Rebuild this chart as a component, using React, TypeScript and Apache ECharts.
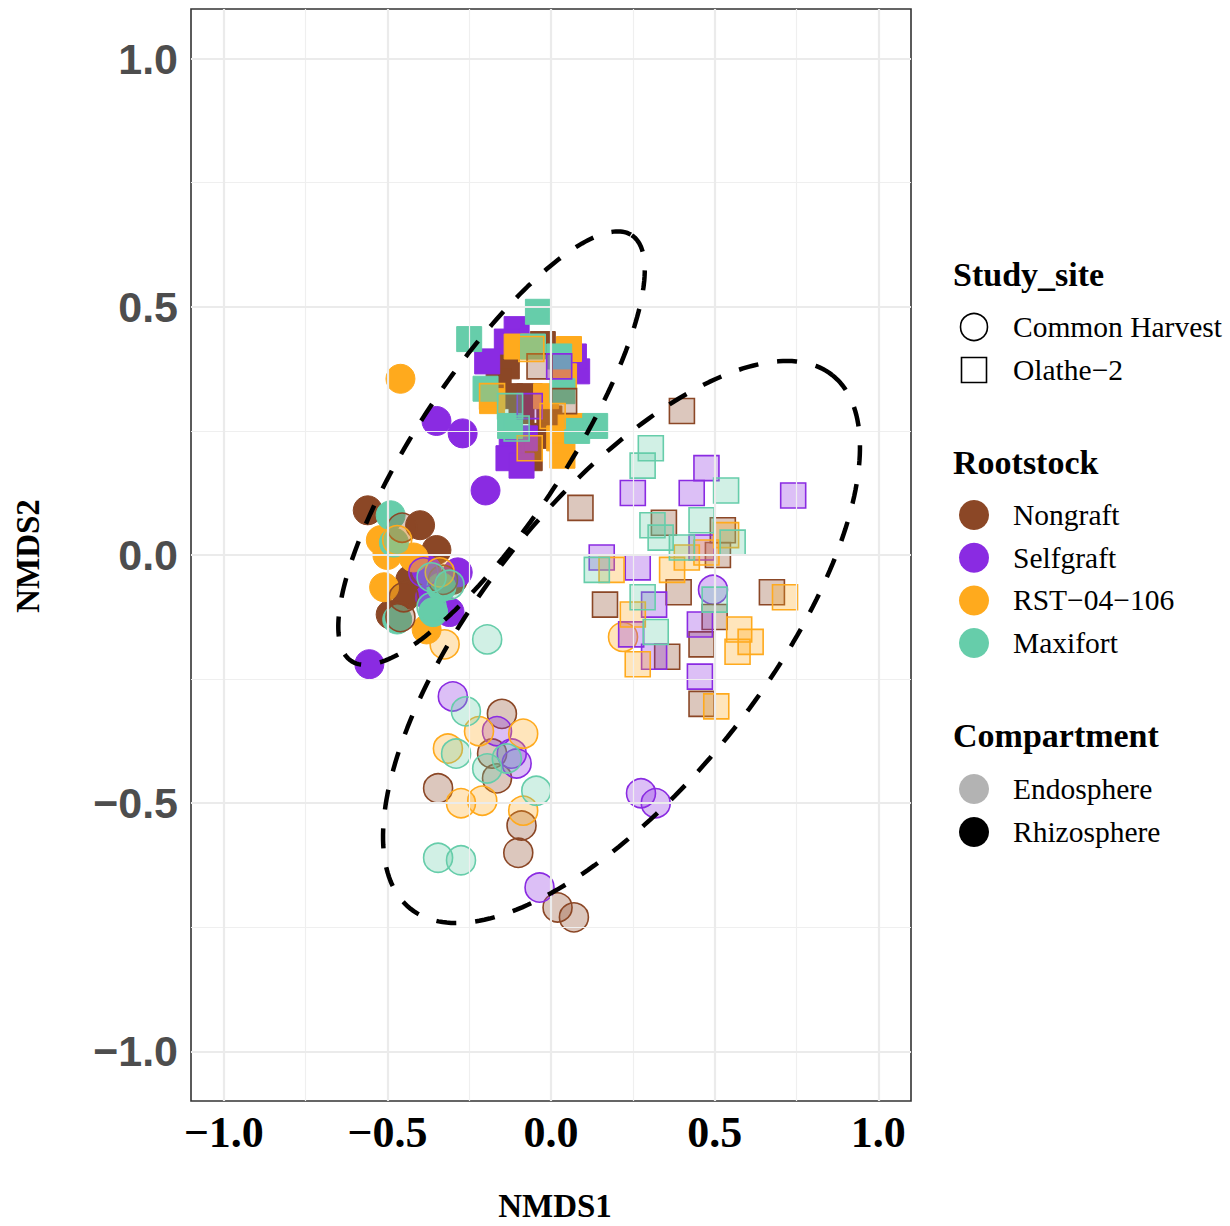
import React, { useEffect, useRef } from 'react';
import * as echarts from 'echarts';

const ROOTSTOCK_LABELS = ['Nongraft', 'Selfgraft', 'RST−04−106', 'Maxifort'];
const ROOTSTOCK_COLORS = ['#8B4726', '#8A2BE2', '#FFAA1D', '#66CDAA'];
const SITE_LABELS = ['Common Harvest', 'Olathe−2'];
const COMPARTMENT_LABELS = ['Endosphere', 'Rhizosphere'];
const COMPARTMENT_COLORS = ['#B3B3B3', '#000000'];
const MAJOR_TICKS = [-1, -0.5, 0, 0.5, 1];
const MINOR_TICKS = [-0.75, -0.25, 0.25, 0.75];

// Common Harvest (circles), Rhizosphere
const chRhizoNongraft = [[-0.56, 0.09], [-0.40, 0.06], [-0.35, 0.01], [-0.43, -0.05], [-0.30, -0.05], [-0.44, -0.08], [-0.49, -0.12]];
const chRhizoSelfgraft = [[-0.35, 0.27], [-0.27, 0.245], [-0.20, 0.13], [-0.285, -0.035], [-0.38, -0.03], [-0.37, -0.085], [-0.31, -0.115], [-0.555, -0.22]];
const chRhizoRST = [[-0.46, 0.355], [-0.52, 0.03], [-0.50, 0.0], [-0.42, -0.005], [-0.51, -0.065], [-0.38, -0.15]];
const chRhizoMaxifort = [[-0.49, 0.08], [-0.48, 0.025], [-0.335, -0.065], [-0.36, -0.115], [-0.47, -0.13]];

// Common Harvest (circles), Endosphere
const chEndoNongraft = [[-0.455, 0.055], [-0.33, -0.05], [-0.45, -0.085], [-0.46, -0.125], [-0.15, -0.32], [-0.18, -0.40], [-0.165, -0.45], [-0.345, -0.47], [-0.09, -0.545], [-0.10, -0.60], [0.02, -0.71], [0.07, -0.73]];
const chEndoSelfgraft = [[-0.39, -0.035], [-0.30, -0.285], [-0.165, -0.355], [-0.12, -0.40], [-0.105, -0.42], [-0.035, -0.67], [0.275, -0.48], [0.32, -0.50], [0.495, -0.07]];
const chEndoRST = [[-0.47, 0.03], [-0.34, -0.035], [-0.325, -0.18], [-0.22, -0.355], [-0.085, -0.36], [-0.315, -0.39], [-0.275, -0.50], [-0.21, -0.495], [-0.085, -0.515], [0.22, -0.165]];
const chEndoMaxifort = [[-0.365, -0.045], [-0.31, -0.06], [-0.365, -0.105], [-0.195, -0.17], [-0.26, -0.315], [-0.29, -0.40], [-0.195, -0.43], [-0.135, -0.41], [-0.045, -0.475], [-0.345, -0.61], [-0.275, -0.615]];

// Olathe-2 (squares), Rhizosphere
const olRhizoNongraft = [[-0.025, 0.425], [-0.135, 0.38], [-0.16, 0.35], [-0.125, 0.32], [-0.065, 0.32], [-0.005, 0.275], [-0.025, 0.24], [-0.065, 0.195], [-0.09, 0.29]];
const olRhizoSelfgraft = [[-0.105, 0.455], [-0.135, 0.43], [-0.195, 0.39], [0.08, 0.37], [0.07, 0.40], [-0.08, 0.235], [-0.12, 0.21], [-0.13, 0.195], [-0.09, 0.18]];
const olRhizoRST = [[0.055, 0.415], [-0.105, 0.42], [-0.18, 0.31], [-0.015, 0.32], [0.06, 0.26], [0.025, 0.235], [0.035, 0.20], [0.04, 0.36]];
const olRhizoMaxifort = [[-0.04, 0.49], [-0.25, 0.435], [-0.055, 0.42], [0.025, 0.40], [-0.20, 0.335], [0.035, 0.33], [-0.125, 0.26], [0.08, 0.25], [0.135, 0.26]];

// Olathe-2 (squares), Endosphere
const olEndoNongraft = [[-0.035, 0.38], [0.04, 0.31], [0.40, 0.29], [0.09, 0.095], [0.345, 0.065], [0.525, 0.05], [0.51, 0.0], [0.39, -0.075], [0.165, -0.10], [0.50, -0.125], [0.46, -0.18], [0.355, -0.205], [0.675, -0.075], [0.46, -0.30]];
const olEndoSelfgraft = [[0.025, 0.38], [-0.065, 0.30], [0.475, 0.175], [0.25, 0.125], [0.43, 0.125], [0.74, 0.12], [0.46, 0.015], [0.155, -0.005], [0.265, -0.025], [0.315, -0.10], [0.455, -0.14], [0.245, -0.16], [0.315, -0.205], [0.455, -0.245]];
const olEndoRST = [[-0.06, 0.415], [-0.18, 0.32], [0.005, 0.28], [-0.065, 0.215], [0.535, 0.04], [0.475, 0.005], [0.415, -0.005], [0.185, -0.03], [0.37, -0.03], [0.25, -0.12], [0.575, -0.15], [0.61, -0.175], [0.57, -0.195], [0.265, -0.22], [0.715, -0.085], [0.505, -0.305]];
const olEndoMaxifort = [[-0.125, 0.30], [-0.105, 0.255], [0.305, 0.215], [0.28, 0.18], [0.535, 0.13], [0.31, 0.06], [0.46, 0.07], [0.335, 0.035], [0.40, 0.015], [0.555, 0.025], [0.14, -0.03], [0.28, -0.085], [0.50, -0.09], [0.32, -0.155]];

// Ellipse parameters (center + conjugate semi-axis vectors, data units)
const ELLIPSE_RHIZO = [-0.1817, 0.2153, 0.4285, 0.4289, 0.1888, -0.082];
const ELLIPSE_ENDO = [0.2154, -0.1753, 0.6441, 0.5377, 0.3407, -0.1773];

const RHIZO_GROUPS = [
  [chRhizoNongraft, chRhizoSelfgraft, chRhizoRST, chRhizoMaxifort],
  [olRhizoNongraft, olRhizoSelfgraft, olRhizoRST, olRhizoMaxifort],
];
const ENDO_GROUPS = [
  [chEndoNongraft, chEndoSelfgraft, chEndoRST, chEndoMaxifort],
  [olEndoNongraft, olEndoSelfgraft, olEndoRST, olEndoMaxifort],
];

function rgba(hex: string, a: number) {
  const n = parseInt(hex.slice(1), 16);
  return `rgba(${(n >> 16) & 255},${(n >> 8) & 255},${n & 255},${a})`;
}

function ellipsePoints(p: number[]) {
  const [cx, cy, ux, uy, vx, vy] = p;
  const pts: number[][] = [];
  const N = 240;
  for (let i = 0; i <= N; i++) {
    const t = (i / N) * Math.PI * 2;
    pts.push([cx + ux * Math.cos(t) + vx * Math.sin(t), cy + uy * Math.cos(t) + vy * Math.sin(t)]);
  }
  return pts;
}

const fmt = (v: number) => (v < 0 ? '−' : '') + Math.abs(v).toFixed(1);

export default function App() {
  const ref = useRef<HTMLDivElement>(null);
  useEffect(() => {
    if (!ref.current) return;
    const chart = echarts.init(ref.current, null, { renderer: 'svg' });
    const series: any[] = [];

    const gridData: any[] = [];
    MINOR_TICKS.forEach((v) => {
      gridData.push({ xAxis: v, lineStyle: { color: '#EFEFEF', width: 1.2, type: 'solid' } });
      gridData.push({ yAxis: v, lineStyle: { color: '#EFEFEF', width: 1.2, type: 'solid' } });
    });
    MAJOR_TICKS.forEach((v) => {
      gridData.push({ xAxis: v, lineStyle: { color: '#EBEBEB', width: 2.2, type: 'solid' } });
      gridData.push({ yAxis: v, lineStyle: { color: '#EBEBEB', width: 2.2, type: 'solid' } });
    });
    series.push({
      type: 'scatter',
      data: [],
      z: 1,
      silent: true,
      markLine: { silent: true, symbol: ['none', 'none'], label: { show: false }, animation: false, data: gridData },
    });

    const shapes = ['circle', 'rect'];
    const sizes = [29, 25];
    RHIZO_GROUPS.forEach((site, si) => {
      site.forEach((pts, ri) => {
        series.push({
          type: 'scatter',
          name: SITE_LABELS[si] + ' ' + ROOTSTOCK_LABELS[ri] + ' Rhizosphere',
          data: pts,
          symbol: shapes[si],
          symbolSize: sizes[si],
          z: 3,
          itemStyle: { color: ROOTSTOCK_COLORS[ri], borderColor: ROOTSTOCK_COLORS[ri], borderWidth: 1, opacity: 1 },
        });
      });
    });
    ENDO_GROUPS.forEach((site, si) => {
      site.forEach((pts, ri) => {
        series.push({
          type: 'scatter',
          name: SITE_LABELS[si] + ' ' + ROOTSTOCK_LABELS[ri] + ' Endosphere',
          data: pts,
          symbol: shapes[si],
          symbolSize: sizes[si],
          z: 4,
          itemStyle: { color: rgba(ROOTSTOCK_COLORS[ri], 0.3), borderColor: ROOTSTOCK_COLORS[ri], borderWidth: 1.6, opacity: 1 },
        });
      });
    });
    [ELLIPSE_RHIZO, ELLIPSE_ENDO].forEach((e, i) => {
      series.push({
        type: 'line',
        name: i === 0 ? 'ellipse Rhizosphere' : 'ellipse Endosphere',
        data: ellipsePoints(e),
        showSymbol: false,
        symbol: 'none',
        smooth: false,
        z: 5,
        silent: true,
        lineStyle: { color: '#000', width: 4.5, type: [20, 19], cap: 'butt' },
      });
    });

    const legend: any[] = [];
    const titleFont = 'bold 34px "Liberation Serif"';
    const itemFont = '29.5px "Liberation Serif"';
    const addTitle = (t: string, y: number) =>
      legend.push({ type: 'text', x: 953, y, style: { text: t, font: titleFont, fill: '#000', verticalAlign: 'middle', align: 'left' } });
    const addItem = (t: string, y: number) =>
      legend.push({ type: 'text', x: 1013, y, style: { text: t, font: itemFont, fill: '#000', verticalAlign: 'middle', align: 'left' } });
    addTitle('Study_site', 274);
    legend.push({ type: 'circle', shape: { cx: 974, cy: 327, r: 13.5 }, style: { fill: '#fff', stroke: '#000', lineWidth: 1.6 } });
    addItem(SITE_LABELS[0], 327);
    legend.push({ type: 'rect', shape: { x: 961.5, y: 357.5, width: 25, height: 25 }, style: { fill: '#fff', stroke: '#000', lineWidth: 1.6 } });
    addItem(SITE_LABELS[1], 370);
    addTitle('Rootstock', 462);
    ROOTSTOCK_LABELS.forEach((l, i) => {
      const y = 515 + i * 42.7;
      legend.push({ type: 'circle', shape: { cx: 974, cy: y, r: 15 }, style: { fill: ROOTSTOCK_COLORS[i] } });
      addItem(l, y);
    });
    addTitle('Compartment', 735);
    COMPARTMENT_LABELS.forEach((l, i) => {
      const y = 789 + i * 43;
      legend.push({ type: 'circle', shape: { cx: 974, cy: y, r: 15 }, style: { fill: COMPARTMENT_COLORS[i] } });
      addItem(l, y);
    });
    legend.push({ type: 'text', x: 555, y: 1206, style: { text: 'NMDS1', font: 'bold 33px "Liberation Serif"', fill: '#000', align: 'center', verticalAlign: 'middle' } });
    legend.push({ type: 'text', x: 28, y: 556, rotation: Math.PI / 2, style: { text: 'NMDS2', font: 'bold 33px "Liberation Serif"', fill: '#000', align: 'center', verticalAlign: 'middle' } });

    chart.setOption({
      animation: false,
      backgroundColor: '#fff',
      grid: { left: 191, top: 9, width: 720, height: 1092, show: true, borderColor: '#333333', borderWidth: 1.6, backgroundColor: '#fff', containLabel: false, outerBoundsMode: 'none' },
      xAxis: {
        type: 'value',
        min: -1.1,
        max: 1.1,
        axisLine: { show: false },
        axisTick: { show: false },
        splitLine: { show: false },
        axisLabel: {
          customValues: MAJOR_TICKS,
          formatter: fmt,
          margin: 9,
          fontFamily: 'Liberation Serif',
          fontWeight: 'bold',
          fontSize: 44,
          color: '#000',
        },
      },
      yAxis: {
        type: 'value',
        min: -1.1,
        max: 1.1,
        axisLine: { show: false },
        axisTick: { show: true, customValues: MAJOR_TICKS, length: 7, lineStyle: { color: '#333', width: 1.6 } },
        splitLine: { show: false },
        axisLabel: {
          customValues: MAJOR_TICKS,
          formatter: fmt,
          margin: 13,
          fontFamily: 'Liberation Sans',
          fontWeight: 'bold',
          fontSize: 43,
          color: '#4D4D4D',
        },
      },
      graphic: legend,
      series,
    });
    return () => chart.dispose();
  }, []);
  return <div ref={ref} style={{ position: 'absolute', left: 0, top: 0, width: 1230, height: 1226 }} />;
}
